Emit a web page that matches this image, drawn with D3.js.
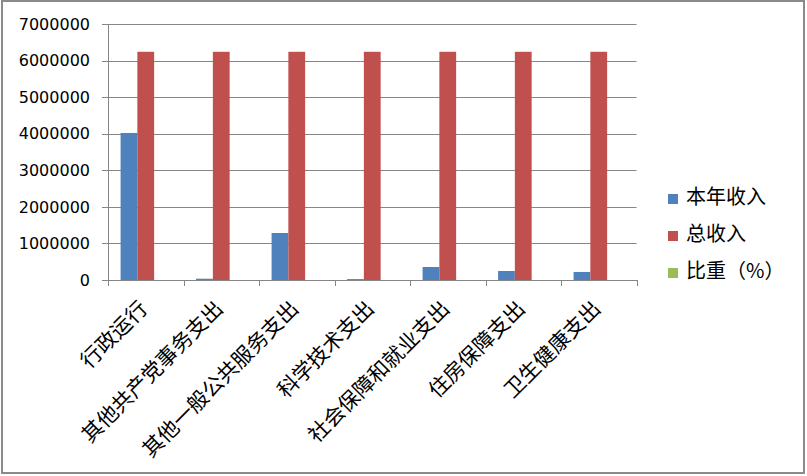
<!DOCTYPE html>
<html><head><meta charset="utf-8">
<script src="https://cdn.jsdelivr.net/npm/d3@7"></script>
<style>body{margin:0;background:#fff}</style>
</head><body>
<svg id="c" width="807" height="476"></svg>
<script>
const categories = ["行政运行","其他共产党事务支出","其他一般公共服务支出","科学技术支出","社会保障和就业支出","住房保障支出","卫生健康支出"];
const seriesNames = ["本年收入","总收入","比重（%）"];
const currentIncome = [4020000, 35000, 1285000, 25000, 355000, 246000, 220000];
const totalIncome = [6240000, 6240000, 6240000, 6240000, 6240000, 6240000, 6240000];
const sharePct = [64.4, 0.6, 20.6, 0.4, 5.7, 3.9, 3.5];
const yTicks = [0,1000000,2000000,3000000,4000000,5000000,6000000,7000000];
const colors = ["#4F81BD","#C0504D","#9BBB59"];

const svg = d3.select("#c");
const L = 108, R = 636.5, T = 24, B = 280;
const x = d3.scaleBand().domain(categories).range([L, R]).paddingInner(0).paddingOuter(0);
const y = d3.scaleLinear().domain([0, 7000000]).range([B, T]);
const gap = 1.5; // Excel gap width 150%
const bw = x.bandwidth() / (3 + gap);
const sx = d3.scaleBand().domain(seriesNames).range([bw*gap/2, bw*gap/2 + 3*bw]);

svg.append("rect").attr("x",2).attr("y",1).attr("width",802).attr("height",472)
  .attr("fill","#fff").attr("stroke","#8a8a8a").attr("stroke-width",2);

// gridlines
svg.append("g").selectAll("line").data(yTicks).join("line")
  .attr("x1", L-6).attr("x2", R).attr("y1", d=>Math.round(y(d))+0.5).attr("y2", d=>Math.round(y(d))+0.5)
  .attr("stroke","#868686").attr("stroke-width",1);

// y labels
svg.append("g").selectAll("text").data(yTicks).join("text")
  .attr("x", 90).attr("y", d=>y(d)).attr("dy","0.36em").attr("text-anchor","end")
  .attr("font-family","DejaVu Sans").attr("font-size",16).attr("fill","#000")
  .text(d=>d3.format("d")(d));

// bars
const data = [currentIncome, totalIncome, sharePct];
data.forEach((vals, si) => {
  svg.append("g").selectAll("rect").data(vals).join("rect")
    .attr("x", (d,i)=> x(categories[i]) + sx(seriesNames[si]))
    .attr("width", bw)
    .attr("y", d=>y(d)).attr("height", d=>B - y(d))
    .attr("fill", colors[si]);
});

// axes lines
svg.append("line").attr("x1",L+0.5).attr("x2",L+0.5).attr("y1",T).attr("y2",B)
  .attr("stroke","#868686");
const bounds = categories.map(c=>x(c)).concat([R]);
svg.append("g").selectAll("line").data(bounds).join("line")
  .attr("x1", d=>Math.round(d)+0.5).attr("x2", d=>Math.round(d)+0.5).attr("y1",B).attr("y2",B+6)
  .attr("stroke","#868686");
svg.append("line").attr("x1",L).attr("x2",R+1).attr("y1",B+0.5).attr("y2",B+0.5).attr("stroke","#868686");

// category labels
svg.append("g").selectAll("text").data(categories).join("text")
  .attr("transform", d=>`translate(${x(d)+x.bandwidth()/2+3},${B+30}) rotate(-45)`)
  .attr("text-anchor","end").attr("font-family","Noto Sans CJK SC").attr("font-size",21)
  .attr("fill","#000").text(d=>d);

// legend
const lg = svg.append("g");
seriesNames.forEach((n,i)=>{
  const cy = 197 + i*37;
  lg.append("rect").attr("x",668).attr("y",cy-3).attr("width",10).attr("height",10).attr("fill",colors[i]);
  lg.append("text").attr("x",686).attr("y",cy).attr("dy","0.36em")
    .attr("font-family","Noto Sans CJK SC").attr("font-size",20).attr("fill","#000").text(n);
});
</script>
</body></html>
